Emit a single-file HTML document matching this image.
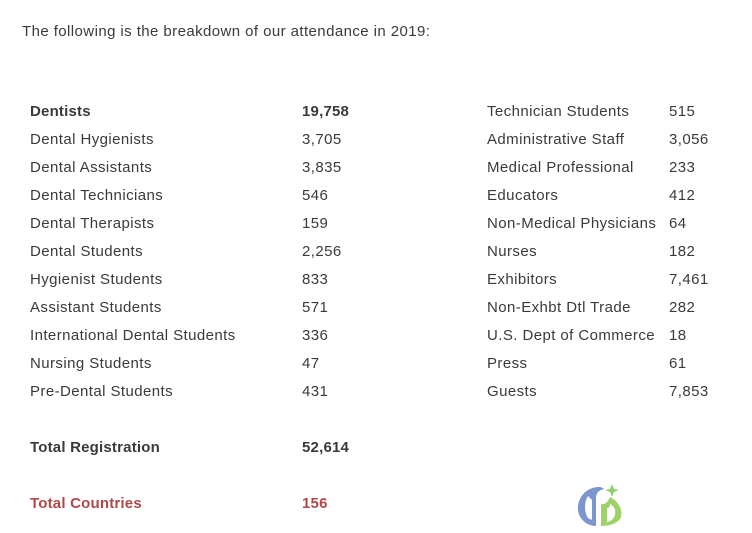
<!DOCTYPE html>
<html><head><meta charset="utf-8"><style>
body{margin:0;width:752px;height:533px;background:#fff;font-family:"Liberation Sans",Arial,sans-serif;color:#3a3a3a;font-size:15px;position:relative;overflow:hidden;letter-spacing:0.42px}
.t{position:absolute;white-space:nowrap;line-height:20px}
.b{font-weight:bold;letter-spacing:0.2px}
.r{color:#b0474a;font-weight:bold;letter-spacing:0.2px}
</style></head><body>
<div class="t" style="left:22px;top:22px">The following is the breakdown of our attendance in 2019:</div>
<div id="c"></div>
<script>
var L=[["Dentists","19,758",1],["Dental Hygienists","3,705"],["Dental Assistants","3,835"],["Dental Technicians","546"],["Dental Therapists","159"],["Dental Students","2,256"],["Hygienist Students","833"],["Assistant Students","571"],["International Dental Students","336"],["Nursing Students","47"],["Pre-Dental Students","431"]];
var R=[["Technician Students","515"],["Administrative Staff","3,056"],["Medical Professional","233"],["Educators","412"],["Non-Medical Physicians","64"],["Nurses","182"],["Exhibitors","7,461"],["Non-Exhbt Dtl Trade","282"],["U.S. Dept of Commerce","18"],["Press","61"],["Guests","7,853"]];
var h="";
function a(x,y,s,c){h+='<div class="t '+(c||"")+'" style="left:'+x+'px;top:'+y+'px">'+s+'</div>';}
L.forEach(function(r,i){var y=102+28*i;a(30,y,r[0],r[2]?"b":"");a(302,y,r[1],r[2]?"b":"");});
R.forEach(function(r,i){var y=102+28*i;a(487,y,r[0]);a(669,y,r[1]);});
a(30,438,"Total Registration","b");a(302,438,"52,614","b");
a(30,494,"Total Countries","r");a(302,494,"156","r");
document.getElementById("c").innerHTML=h;
</script>
<svg style="position:absolute;left:574px;top:482px" width="54" height="46" viewBox="0 0 54 46">
<path d="M24 5 C10 6 3 18 4 28 C5 38 14 44 22 44 L22 16 C22 11 25 8 30 7 C28 5 26 5 24 5Z" fill="#7b95cf"/>
<path d="M14 14 C10 20 10 30 14 36 L18 38 L18 18Z" fill="#fff"/>
<path d="M27 44 L27 22 C32 23 34 19 36 15 C44 19 49 27 47 35 C45 41 36 44 27 44Z" fill="#9ed36a"/>
<path d="M33 26 L33 40 C39 39 42 34 41 28 C40 25 38 23 36 22 C36 25 35 26 33 26Z" fill="#fff"/>
<path d="M38 2 L40 7 L45 8 L40 10 L38 15 L36 10 L31 8 L36 7Z" fill="#8fcf6a"/>
</svg>
</body></html>
